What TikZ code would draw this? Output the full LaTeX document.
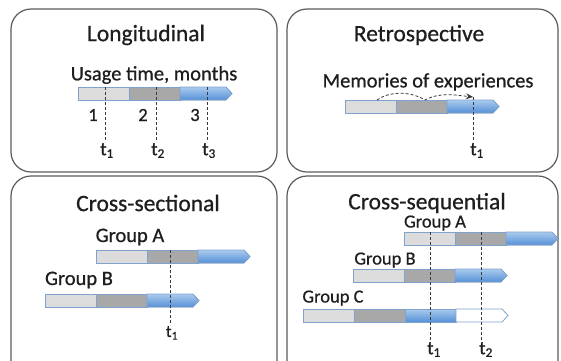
\documentclass[tikz,border=0pt]{standalone}
\usepackage{fontspec}
\setmainfont{Carlito}[FakeBold=0.7]
\usetikzlibrary{arrows.meta}

\definecolor{panelline}{HTML}{5A5A5A}
\definecolor{barline}{HTML}{7FA2CF}
\definecolor{seglight}{HTML}{DCDCDC}
\definecolor{segdark}{HTML}{A8A8A8}
\definecolor{bluetop}{HTML}{A9CBEE}
\definecolor{bluebot}{HTML}{5690D6}
\definecolor{guidecol}{HTML}{3A3A3A}
\definecolor{ink}{HTML}{1E1E1E}

% one bar: light, dark and blue segments, the last one pointed
\newcommand\usagebar[2]{%
  \filldraw[segA] (#1,#2) rectangle ++(51,13);
  \filldraw[segB] (#1+51,#2) rectangle ++(51,13);
  \filldraw[segC] (#1+102,#2) -- ++(46,0) -- ++(6,6.5) -- ++(-6,6.5) -- ++(-46,0) -- cycle;
}
% four-segment bar, the last pointed segment left empty
\newcommand\usagebarlong[2]{%
  \filldraw[segA] (#1,#2) rectangle ++(51,13);
  \filldraw[segB] (#1+51,#2) rectangle ++(51,13);
  \filldraw[segC] (#1+102,#2) rectangle ++(51,13);
  \filldraw[segD] (#1+153,#2) -- ++(46,0) -- ++(6,6.5) -- ++(-6,6.5) -- ++(-46,0) -- cycle;
}

\tikzset{
  panel/.style={draw=panelline, line width=1.2pt, rounded corners=20pt},
  segA/.style={fill=seglight, draw=barline, line width=0.8pt},
  segB/.style={fill=segdark, draw=barline, line width=0.8pt},
  segC/.style={top color=bluetop, bottom color=bluebot, draw=barline, line width=0.8pt},
  segD/.style={fill=white, draw=barline, line width=0.8pt},
  guide/.style={draw=guidecol, line width=0.8pt, dash pattern=on 3pt off 2pt},
  title/.style={font=\fontsize{23.5}{26}\selectfont, text=ink, inner sep=0pt},
  lbl/.style={font=\fontsize{20.5}{23}\selectfont, text=ink, inner sep=0pt},
  grp/.style={font=\fontsize{18.5}{21}\selectfont, text=ink, inner sep=0pt},
  tlbl/.style={font=\fontsize{19}{21}\selectfont, text=ink, inner sep=1pt, anchor=north},
}

\begin{document}
\begin{tikzpicture}[x=1pt, y=-1pt]
  \useasboundingbox (0,0) rectangle (561,360);

  % panels
  \draw[panel] (11,9) rectangle (277,172);
  \draw[panel] (287,9) rectangle (558,172);
  \draw[panel] (11,176) rectangle (277,380);
  \draw[panel] (287,176) rectangle (558,380);

  % --- Longitudinal ---
  \node[title] (tLong) at (146,35) {Longitudinal};
  \node[lbl] (usage) at (154,75) {Usage time, months};
  \usagebar{78}{87}
  \node[lbl, font=\fontsize{18.5}{21}\selectfont] (m1) at (93,115) {1};
  \node[lbl, font=\fontsize{18.5}{21}\selectfont] (m2) at (143,115) {2};
  \node[lbl, font=\fontsize{18.5}{21}\selectfont] (m3) at (195,115) {3};
  \coordinate (lg1) at (105,87);
  \coordinate (lg2) at (156,87);
  \coordinate (lg3) at (207,87);
  \node[tlbl] (lt1) at (107,142) {t\textsubscript{1}};
  \node[tlbl] (lt2) at (158,142) {t\textsubscript{2}};
  \node[tlbl] (lt3) at (209,142) {t\textsubscript{3}};
  \draw[guide] (lg1) -- (lg1 |- lt1.north);
  \draw[guide] (lg2) -- (lg2 |- lt2.north);
  \draw[guide] (lg3) -- (lg3 |- lt3.north);

  % --- Retrospective ---
  \node[title] (tRetro) at (419,35) {Retrospective};
  \node[lbl] (mem) at (428,82) {Memories of experiences};
  \usagebar{345}{100}
  \coordinate (rs) at (377,100);
  \coordinate (rm) at (425,100);
  \coordinate (re) at (473,97);
  \node[tlbl] (rt1) at (477,142) {t\textsubscript{1}};
  \draw[guide] (re) -- (re |- rt1.north);
  \draw[guide, -{Stealth[length=7pt, width=6pt]}]
    (rs) .. controls (390,91) and (410,91) .. (rm)
         .. controls (440,92) and (455,95) .. (re);

  % --- Cross-sectional ---
  \node[title] (tCS) at (148,203) {Cross-sectional};
  \node[lbl] (csA) at (130,237) {Group A};
  \usagebar{96}{250}
  \node[lbl] (csB) at (79,280) {Group B};
  \usagebar{45}{294}
  \coordinate (cg1) at (170,250);
  \node[tlbl, font=\fontsize{17}{19}\selectfont] (ct1) at (172,325) {t\textsubscript{1}};
  \draw[guide] (cg1) -- (cg1 |- ct1.north);

  % --- Cross-sequential ---
  \node[title] (tCQ) at (427,203) {Cross-sequential};
  \node[grp] (cqA) at (435,223) {Group A};
  \usagebar{404}{232}
  \node[grp] (cqB) at (385,260) {Group B};
  \usagebar{353}{269}
  \node[grp] (cqC) at (333,298) {Group C};
  \usagebarlong{303}{309}
  \coordinate (qg1) at (430,232);
  \coordinate (qg2) at (481,232);
  \node[tlbl] (qt1) at (434,341) {t\textsubscript{1}};
  \node[tlbl] (qt2) at (486,341) {t\textsubscript{2}};
  \draw[guide] (qg1) -- (qg1 |- qt1.north);
  \draw[guide] (qg2) -- (qg2 |- qt2.north);
\end{tikzpicture}
\end{document}
